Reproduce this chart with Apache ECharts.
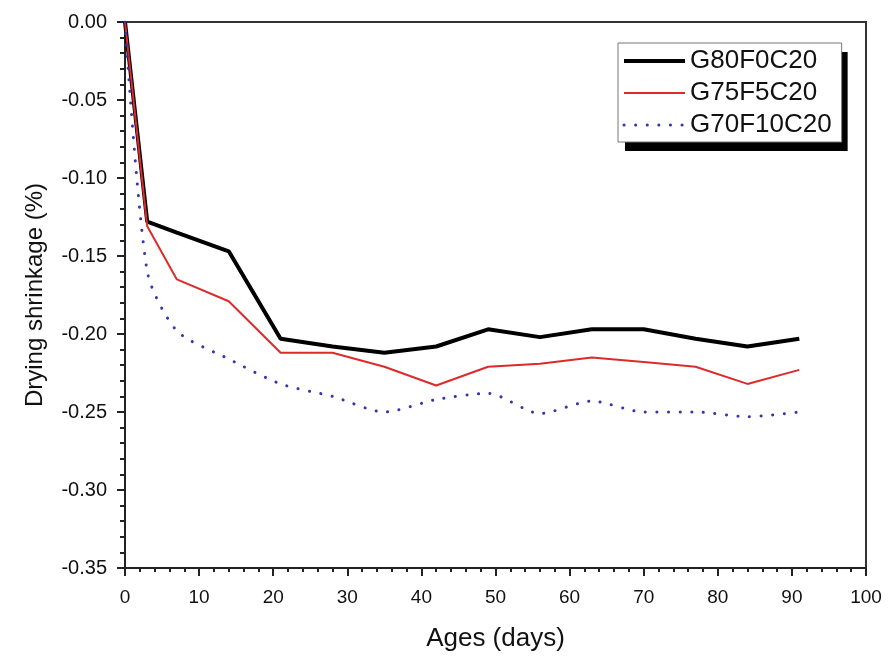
<!DOCTYPE html>
<html>
<head>
<meta charset="utf-8">
<script src="https://cdn.jsdelivr.net/npm/echarts@6/dist/echarts.min.js"></script>
<style>
html,body{margin:0;padding:0;background:#fff;}
#chart{width:892px;height:657px;}
</style>
</head>
<body>
<div id="chart"></div>
<script>
const days = [0, 3, 7, 14, 21, 28, 35, 42, 49, 56, 63, 70, 77, 84, 91];
const g80f0c20 = [0, -0.128, -0.135, -0.147, -0.203, -0.208, -0.212, -0.208, -0.197, -0.202, -0.197, -0.197, -0.203, -0.208, -0.203];
const g75f5c20 = [0, -0.131, -0.165, -0.179, -0.212, -0.212, -0.221, -0.233, -0.221, -0.219, -0.215, -0.218, -0.221, -0.232, -0.223];
const g70f10c20 = [0, -0.160, -0.198, -0.216, -0.232, -0.240, -0.250, -0.242, -0.238, -0.251, -0.243, -0.250, -0.250, -0.253, -0.250];
const seriesNames = ['G80F0C20', 'G75F5C20', 'G70F10C20'];
const xTitle = 'Ages (days)';
const yTitle = 'Drying shrinkage (%)';

const pair = (xs, ys) => xs.map((x, i) => [x, ys[i]]);
const FONT = '"Liberation Sans", Arial, sans-serif';

const legendBase = {
  orient: 'vertical',
  itemWidth: 61, itemHeight: 20, itemGap: 6,
  padding: [5, 10, 4, 4],
  selectedMode: false,
  itemStyle: {opacity: 0}
};

const chart = echarts.init(document.getElementById('chart'), null, {renderer: 'canvas'});
chart.setOption({
  animation: false,
  backgroundColor: '#fff',
  grid: {left: 125, right: 26, top: 22, bottom: 88, show: true, borderColor: '#333', borderWidth: 2, backgroundColor: 'transparent'},
  legend: [
    Object.assign({}, legendBase, {
      left: 625, top: 52, z: 3,
      data: seriesNames,
      backgroundColor: '#000', borderWidth: 0,
      lineStyle: {opacity: 0},
      textStyle: {fontFamily: FONT, fontSize: 26, color: 'rgba(0,0,0,0)'}
    }),
    Object.assign({}, legendBase, {
      left: 618, top: 43, z: 4,
      data: [
        {name: seriesNames[0], lineStyle: {width: 4}},
        {name: seriesNames[1], lineStyle: {width: 2}},
        {name: seriesNames[2], lineStyle: {width: 3}}
      ],
      backgroundColor: '#fff', borderColor: '#777', borderWidth: 1,
      textStyle: {fontFamily: FONT, fontSize: 26, color: '#111'}
    })
  ],
  xAxis: {
    type: 'value', min: 0, max: 100, interval: 10,
    name: xTitle, nameLocation: 'middle', nameGap: 58,
    nameTextStyle: {fontFamily: FONT, fontSize: 26, color: '#111'},
    axisLine: {show: true, onZero: false, lineStyle: {color: '#222', width: 2}},
    axisTick: {show: true, inside: false, length: 8, lineStyle: {color: '#222', width: 2}},
    minorTick: {show: true, splitNumber: 5, length: 4, lineStyle: {color: '#222', width: 2}},
    splitLine: {show: false},
    axisLabel: {margin: 20, fontFamily: FONT, fontSize: 19, color: '#111'}
  },
  yAxis: {
    type: 'value', min: -0.35, max: 0, interval: 0.05,
    name: yTitle, nameLocation: 'middle', nameGap: 78, nameRotate: 90,
    nameTextStyle: {fontFamily: FONT, fontSize: 24, color: '#111'},
    axisLine: {show: true, onZero: false, lineStyle: {color: '#222', width: 2}},
    axisTick: {show: true, inside: false, length: 8, lineStyle: {color: '#222', width: 2}},
    minorTick: {show: true, splitNumber: 5, length: 5, lineStyle: {color: '#222', width: 2}},
    splitLine: {show: false},
    axisLabel: {margin: 18, fontFamily: FONT, fontSize: 20, color: '#111',
      formatter: v => v.toFixed(2)}
  },
  series: [
    {name: seriesNames[0], type: 'line', symbol: 'none', data: pair(days, g80f0c20),
      lineStyle: {color: '#000', width: 4}, itemStyle: {color: '#000'}},
    {name: seriesNames[1], type: 'line', symbol: 'none', data: pair(days, g75f5c20),
      lineStyle: {color: '#dd2a2a', width: 2}, itemStyle: {color: '#dd2a2a'}},
    {name: seriesNames[2], type: 'line', symbol: 'none', smooth: 0.25, data: pair(days, g70f10c20),
      lineStyle: {color: '#3535b0', width: 3, type: [0.1, 11.5], cap: 'round'}, itemStyle: {color: '#3535b0'}}
  ]
});
</script>
</body>
</html>
